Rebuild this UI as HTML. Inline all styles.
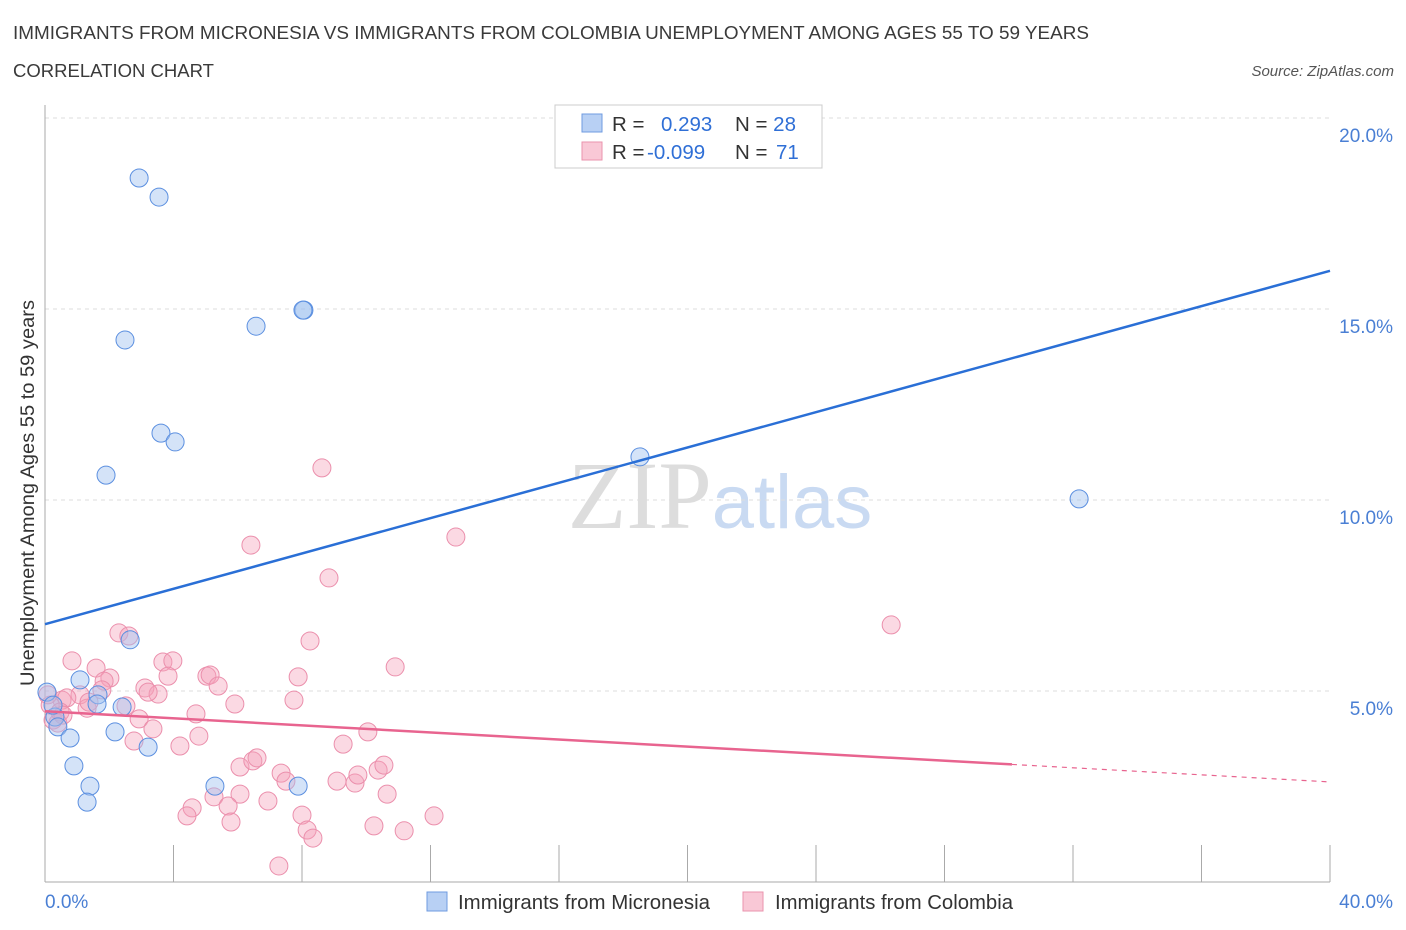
<!DOCTYPE html>
<html><head><meta charset="utf-8"><style>
body{margin:0;background:#fff;font-family:"Liberation Sans",sans-serif;}
svg{display:block}
</style></head><body>
<svg id="chart" width="1406" height="930" xmlns="http://www.w3.org/2000/svg">
<text x="13" y="39" font-size="18.5" fill="#3a3a3a" textLength="1076" lengthAdjust="spacingAndGlyphs">IMMIGRANTS FROM MICRONESIA VS IMMIGRANTS FROM COLOMBIA UNEMPLOYMENT AMONG AGES 55 TO 59 YEARS</text>
<text x="13" y="77" font-size="18.5" fill="#3a3a3a" textLength="201" lengthAdjust="spacingAndGlyphs">CORRELATION CHART</text>
<text x="1394" y="76" font-size="15" fill="#555" font-style="italic" text-anchor="end">Source: ZipAtlas.com</text>
<text x="720" y="528" font-size="96" text-anchor="middle" font-family="Liberation Serif,serif"><tspan fill="#ddd">ZIP</tspan><tspan fill="#c9daf2" font-family="Liberation Sans,sans-serif" font-size="76">atlas</tspan></text>
<g id="grid"></g><g id="axes"></g><g id="pts"></g><g id="lines"></g>
<text transform="translate(34,493) rotate(-90)" font-size="19" fill="#333" text-anchor="middle" textLength="386" lengthAdjust="spacingAndGlyphs">Unemployment Among Ages 55 to 59 years</text>
<text x="45" y="908" font-size="19" fill="#4a7fd4">0.0%</text>
<text x="1393" y="908" font-size="19" fill="#4a7fd4" text-anchor="end">40.0%</text>
<g>
<rect x="555" y="105" width="267" height="63" fill="#fff" stroke="#ccc"/>
<rect x="582" y="114" width="20" height="18" fill="#b8d0f4" stroke="#6f9be0"/>
<rect x="582" y="142" width="20" height="18" fill="#f9c8d6" stroke="#ea93ad"/>
<text x="612" y="131" font-size="20.5" fill="#333">R = <tspan fill="#2f6fd6" x="661">0.293</tspan><tspan x="735">N = </tspan><tspan fill="#2f6fd6">28</tspan></text>
<text x="612" y="159" font-size="20.5" fill="#333">R = <tspan fill="#2f6fd6" x="647">-0.099</tspan><tspan x="735">N = </tspan><tspan fill="#2f6fd6" x="776">71</tspan></text>
</g>
<g>
<rect x="427" y="892" width="20" height="19" fill="#b8d0f4" stroke="#6f9be0"/>
<text x="458" y="909" font-size="20" fill="#333" textLength="252" lengthAdjust="spacingAndGlyphs">Immigrants from Micronesia</text>
<rect x="743" y="892" width="20" height="19" fill="#f9c8d6" stroke="#ea93ad"/>
<text x="775" y="909" font-size="20" fill="#333" textLength="238" lengthAdjust="spacingAndGlyphs">Immigrants from Colombia</text>
</g>
</svg>
<script>
const blueX=[2.93,3.55,8.06,8.03,6.57,2.49,3.61,4.05,1.90,18.52,32.19,2.65,0.06,1.09,1.65,1.62,2.40,0.31,0.40,0.78,2.18,3.21,0.90,1.40,1.31,5.29,7.88,0.25];
const blueY=[18.43,17.93,14.97,14.97,14.55,14.19,11.75,11.52,10.65,11.13,10.03,6.34,4.97,5.29,4.90,4.66,4.58,4.32,4.06,3.77,3.93,3.53,3.04,2.51,2.09,2.51,2.51,4.63];
const pinkX=[8.62,12.79,6.41,8.84,26.34,8.25,2.30,2.61,0.84,1.59,3.67,3.98,10.90,2.02,1.84,3.83,5.04,5.14,7.88,3.11,5.39,3.52,3.21,1.09,0.53,0.68,0.16,1.31,7.75,5.91,2.52,1.37,2.93,4.70,0.25,0.40,2.77,3.36,4.20,4.79,9.28,10.05,6.07,6.47,6.60,7.35,7.50,6.07,6.94,9.09,9.65,9.74,10.37,10.55,10.65,5.26,4.58,4.42,5.70,5.79,8.00,8.16,8.34,10.24,11.18,12.11,7.28,0.47,0.09,0.56,1.77];
const pinkY=[10.84,9.03,8.82,7.96,6.73,6.31,6.52,6.44,5.79,5.60,5.76,5.79,5.63,5.34,5.26,5.39,5.39,5.42,5.37,5.08,5.13,4.92,4.97,4.90,4.76,4.82,4.63,4.55,4.76,4.66,4.61,4.71,4.27,4.40,4.24,4.16,3.69,4.01,3.56,3.82,3.61,3.93,3.01,3.17,3.25,2.85,2.64,2.30,2.12,2.64,2.59,2.80,2.93,3.06,2.30,2.23,1.94,1.73,1.99,1.57,1.75,1.36,1.15,1.47,1.34,1.73,0.42,4.45,4.90,4.37,5.03];
const yTicks=[5,10,15,20];
const yTickLabels=["5.0%","10.0%","15.0%","20.0%"];
const xTicks=[0,4,8,12,16,20,24,28,32,36,40];
const blueTrend=[6.75,16.0];
const pinkTrend=[4.47,2.62];
const pinkSolidEnd=30.1;
const NS="http://www.w3.org/2000/svg";
const sx=v=>45+v/40*1285, sy=v=>882-v/20*764;
function mk(p,t,a){const e=document.createElementNS(NS,t);for(const k in a)e.setAttribute(k,a[k]);document.getElementById(p).appendChild(e);return e;}
yTicks.forEach((v,i)=>{
 const g=mk('grid','line',{x1:45,x2:1330,y1:sy(v),y2:sy(v),stroke:'#ddd','stroke-dasharray':'4,4'});
 
 
 const t=mk('grid','text',{x:1393,y:sy(v)+24,'font-size':19,fill:'#4a7fd4','text-anchor':'end'});
 t.textContent=yTickLabels[i];
 
 
});
const ax=mk('axes','line',{x1:45,x2:45,y1:105,y2:882,stroke:'#aaa'});


const bx=mk('axes','line',{x1:45,x2:1330,y1:882,y2:882,stroke:'#aaa'});


xTicks.forEach(v=>{
 const t=mk('axes','line',{x1:sx(v),x2:sx(v),y1:845,y2:882,stroke:'#aaa'});
 
 
});
pinkX.forEach((x,i)=>{
 const c=mk('pts','circle',{cx:sx(x),cy:sy(pinkY[i]),r:9,fill:'rgba(244,160,186,0.4)',stroke:'#eb8fac','stroke-width':1});
 
 
});
blueX.forEach((x,i)=>{
 const c=mk('pts','circle',{cx:sx(x),cy:sy(blueY[i]),r:9,fill:'rgba(160,194,240,0.45)',stroke:'#5b8fe0','stroke-width':1});
 
 
});
const bl=mk('lines','line',{x1:sx(0),y1:sy(blueTrend[0]),x2:sx(40),y2:sy(blueTrend[1]),stroke:'#2a6fd6','stroke-width':2.5});


const pe=pinkTrend[0]+(pinkTrend[1]-pinkTrend[0])*pinkSolidEnd/40;
const pl=mk('lines','line',{x1:sx(0),y1:sy(pinkTrend[0]),x2:sx(pinkSolidEnd),y2:sy(pe),stroke:'#e8648f','stroke-width':2.5});


const pd=mk('lines','line',{x1:sx(pinkSolidEnd),y1:sy(pe),x2:sx(40),y2:sy(pinkTrend[1]),stroke:'#e8648f','stroke-width':1.2,'stroke-dasharray':'5,5'});


</script>
</body></html>
